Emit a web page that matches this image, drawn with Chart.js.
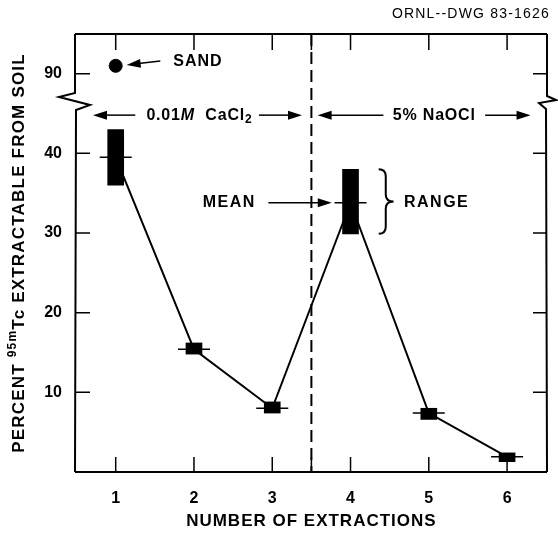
<!DOCTYPE html>
<html>
<head>
<meta charset="utf-8">
<script src="https://cdn.jsdelivr.net/npm/chart.js@4.4.0/dist/chart.umd.min.js"></script>
<style>
  html, body { margin: 0; padding: 0; background: #fff; }
</style>
</head>
<body>
<canvas id="chart" width="558" height="535"></canvas>
<script>
"use strict";

// values (percent 95mTc extractable)
const extractions = [1, 2, 3, 4, 5, 6];
const meanPct = [39.5, 15.4, 8.0, 33.8, 7.4, 1.9];
const lowPct = [36.0, 14.8, 7.4, 29.9, 6.6, 1.3];
const highPct = [43.0, 16.2, 8.8, 38.0, 8.0, 2.4];
const sandX = [1];
const sandPct = [91.0];
const lowerTicks = [10, 20, 30, 40];
const upperTicks = [90];
const solutionSplit = 3.5;

const FONT = "'Liberation Sans', Arial, Helvetica, sans-serif";

function bold(size, italic) {
  return (italic ? "italic " : "") + "bold " + size + "px " + FONT;
}

function drawArrow(ctx, x1, y1, x2, y2) {
  const ang = Math.atan2(y2 - y1, x2 - x1);
  const len = 14, half = 4.5;
  ctx.beginPath();
  ctx.moveTo(x1, y1);
  ctx.lineTo(x2 - Math.cos(ang) * (len - 2), y2 - Math.sin(ang) * (len - 2));
  ctx.stroke();
  ctx.beginPath();
  ctx.moveTo(x2, y2);
  ctx.lineTo(x2 - Math.cos(ang) * len - Math.sin(ang) * half, y2 - Math.sin(ang) * len + Math.cos(ang) * half);
  ctx.lineTo(x2 - Math.cos(ang) * len + Math.sin(ang) * half, y2 - Math.sin(ang) * len - Math.cos(ang) * half);
  ctx.closePath();
  ctx.fill();
}

// draws pieces of text one after another, centred on cx
function drawRich(ctx, pieces, cx, cy, spacing) {
  ctx.letterSpacing = spacing + "px";
  let total = 0;
  pieces.forEach((p) => {
    ctx.font = p.font;
    p.w = ctx.measureText(p.t).width;
    total += p.w;
  });
  let x = cx - total / 2;
  ctx.textAlign = "left";
  ctx.textBaseline = "middle";
  pieces.forEach((p) => {
    ctx.font = p.font;
    ctx.fillText(p.t, x, cy + (p.dy || 0));
    x += p.w;
  });
  ctx.letterSpacing = "0px";
}

const decor = {
  id: "decor",
  afterDraw(chart) {
    const ctx = chart.ctx;
    const x = chart.scales.x;
    const yl = chart.scales.yLow;
    const yu = chart.scales.yUp;
    const L = x.left, R = x.right, T = yu.top, B = yl.bottom;
    const yb = yl.top;

    ctx.save();
    ctx.strokeStyle = "#000";
    ctx.fillStyle = "#000";
    ctx.lineJoin = "miter";

    // frame with broken side axes
    ctx.lineWidth = 2;
    ctx.beginPath();
    ctx.moveTo(L, T); ctx.lineTo(R, T);
    ctx.moveTo(L, B); ctx.lineTo(R, B);
    ctx.moveTo(L, T); ctx.lineTo(L, yb - 7); ctx.lineTo(L - 16, yb - 3);
    ctx.lineTo(L + 15, yb + 5); ctx.lineTo(L + 1, yb + 10); ctx.lineTo(L, B);
    ctx.moveTo(R, T); ctx.lineTo(R, yb - 4); ctx.lineTo(R + 9, yb);
    ctx.lineTo(R - 8, yb + 3); ctx.lineTo(R - 1, yb + 9); ctx.lineTo(R, B);
    ctx.stroke();

    // dashed divider between the two solutions
    ctx.beginPath();
    ctx.setLineDash([12, 6]);
    ctx.moveTo(x.getPixelForValue(solutionSplit), T);
    ctx.lineTo(x.getPixelForValue(solutionSplit), B);
    ctx.stroke();
    ctx.setLineDash([]);

    // inward tick marks
    ctx.lineWidth = 1.5;
    ctx.beginPath();
    extractions.concat([solutionSplit]).forEach((v) => {
      const px = x.getPixelForValue(v);
      ctx.moveTo(px, T); ctx.lineTo(px, T + 16);
      ctx.moveTo(px, B); ctx.lineTo(px, B - 15);
    });
    lowerTicks.forEach((v) => {
      const py = yl.getPixelForValue(v);
      ctx.moveTo(L, py); ctx.lineTo(L + 15, py);
      ctx.moveTo(R, py); ctx.lineTo(R - 14, py);
    });
    upperTicks.forEach((v) => {
      const py = yu.getPixelForValue(v);
      ctx.moveTo(L, py); ctx.lineTo(L + 15, py);
      ctx.moveTo(R, py); ctx.lineTo(R - 14, py);
    });
    ctx.stroke();

    // annotations
    ctx.lineWidth = 1.5;
    const X = (v) => x.getPixelForValue(v);
    const YL = (v) => yl.getPixelForValue(v);
    const YU = (v) => yu.getPixelForValue(v);

    drawRich(ctx, [{ t: "SAND", font: bold(16) }], X(2.05), YU(91.5), 1);
    drawArrow(ctx, X(1.57), YU(91.6), X(1.14), YU(91.1));

    const rowY = YL(44.8);
    drawArrow(ctx, X(1.25), rowY, X(0.71), rowY);
    drawArrow(ctx, X(2.83), rowY, X(3.38), rowY);
    drawRich(ctx, [
      { t: "0.01", font: bold(16) },
      { t: "M", font: bold(16, true) },
      { t: "  CaCl", font: bold(16) },
      { t: "2", font: bold(12), dy: 5 }
    ], X(2.07), rowY, 0.8);

    drawArrow(ctx, X(4.42), rowY, X(3.58), rowY);
    drawArrow(ctx, X(5.72), rowY, X(6.30), rowY);
    drawRich(ctx, [{ t: "5% NaOCl", font: bold(16) }], X(5.07), rowY, 0.8);

    drawRich(ctx, [{ t: "MEAN", font: bold(16) }], X(2.45), YL(33.8), 1.5);
    drawArrow(ctx, X(2.95), YL(33.8), X(3.76), YL(33.8));

    // brace spanning the range of extraction 4
    const bx0 = X(4.36), bx1 = X(4.45), bx2 = X(4.55);
    const by0 = YL(38.0), by1 = YL(29.9), bym = (by0 + by1) / 2;
    ctx.lineWidth = 2;
    ctx.beginPath();
    ctx.moveTo(bx0, by0);
    ctx.quadraticCurveTo(bx1, by0, bx1, by0 + 7);
    ctx.lineTo(bx1, bym - 7);
    ctx.quadraticCurveTo(bx1, bym, bx2, bym);
    ctx.quadraticCurveTo(bx1, bym, bx1, bym + 7);
    ctx.lineTo(bx1, by1 - 7);
    ctx.quadraticCurveTo(bx1, by1, bx0, by1);
    ctx.stroke();

    drawRich(ctx, [{ t: "RANGE", font: bold(16) }], X(5.1), YL(33.8), 1.5);

    // axis titles
    drawRich(ctx, [{ t: "NUMBER OF EXTRACTIONS", font: bold(17) }], X(3.5), 521, 1);

    ctx.save();
    ctx.translate(19, 253);
    ctx.rotate(-Math.PI / 2);
    drawRich(ctx, [
      { t: "PERCENT ", font: bold(17) },
      { t: "95m", font: bold(12), dy: -6 },
      { t: "Tc EXTRACTABLE FROM SOIL", font: bold(17) }
    ], 0, 0, 1.2);
    ctx.restore();

    // drawing number
    ctx.font = "14px " + FONT;
    ctx.letterSpacing = "1.2px";
    ctx.textAlign = "right";
    ctx.textBaseline = "middle";
    ctx.fillText("ORNL--DWG 83-1626", 550, 14);
    ctx.restore();
  }
};

const axisFont = { family: FONT, size: 16, weight: "bold" };

new Chart(document.getElementById("chart"), {
  type: "bar",
  data: {
    datasets: [
      {
        type: "line",
        data: extractions.map((v, i) => ({ x: v, y: meanPct[i] })),
        yAxisID: "yLow",
        borderColor: "#000",
        borderWidth: 2,
        pointRadius: 0,
        order: 3
      },
      {
        type: "bar",
        data: extractions.map((v, i) => ({ x: v, y: [lowPct[i], highPct[i]] })),
        yAxisID: "yLow",
        backgroundColor: "#000",
        barThickness: 16,
        order: 2
      },
      {
        type: "scatter",
        data: extractions.map((v, i) => ({ x: v, y: meanPct[i] })),
        yAxisID: "yLow",
        pointStyle: "line",
        pointRadius: 16,
        borderColor: "#000",
        borderWidth: 1.5,
        order: 1
      },
      {
        type: "scatter",
        data: sandX.map((v, i) => ({ x: v, y: sandPct[i] })),
        yAxisID: "yUp",
        pointRadius: 6.5,
        backgroundColor: "#000",
        borderColor: "#000",
        order: 1
      }
    ]
  },
  options: {
    responsive: false,
    animation: false,
    layout: { autoPadding: false, padding: { top: 34, right: 11, left: 0, bottom: 0 } },
    plugins: { legend: { display: false }, tooltip: { enabled: false } },
    scales: {
      x: {
        type: "linear",
        offset: false,
        min: 0.48,
        max: 6.51,
        afterBuildTicks: (s) => { s.ticks = extractions.map((v) => ({ value: v })); },
        afterFit: (s) => { s.height = 63; },
        grid: { display: false, drawTicks: false },
        border: { display: false },
        ticks: { color: "#000", font: axisFont, padding: 17, autoSkip: false, maxRotation: 0 }
      },
      yLow: {
        type: "linear",
        position: "left",
        stack: "y",
        stackWeight: 372,
        min: 0,
        max: 46.7,
        afterBuildTicks: (s) => { s.ticks = lowerTicks.map((v) => ({ value: v })); },
        afterFit: (s) => { s.width = 75; },
        grid: { display: false, drawTicks: false },
        border: { display: false },
        ticks: { color: "#000", font: axisFont, padding: 13 }
      },
      yUp: {
        type: "linear",
        position: "left",
        stack: "y",
        stackWeight: 66,
        min: 86.7,
        max: 95.0,
        afterBuildTicks: (s) => { s.ticks = upperTicks.map((v) => ({ value: v })); },
        afterFit: (s) => { s.width = 75; },
        grid: { display: false, drawTicks: false },
        border: { display: false },
        ticks: { color: "#000", font: axisFont, padding: 13 }
      }
    }
  },
  plugins: [decor]
});
</script>
</body>
</html>
